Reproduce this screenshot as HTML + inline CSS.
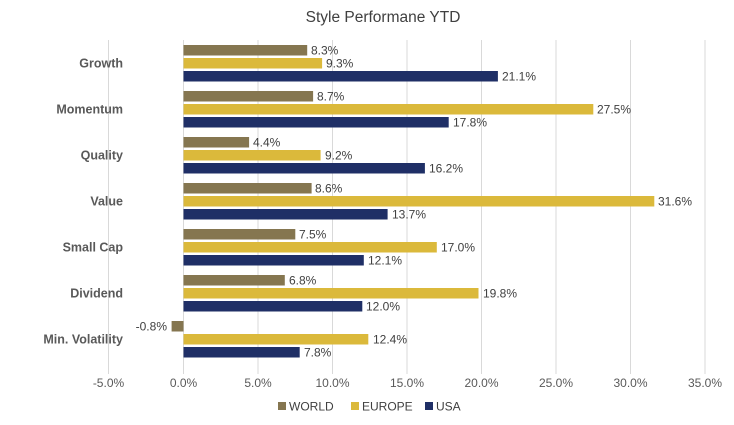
<!DOCTYPE html>
<html><head><meta charset="utf-8"><style>
body{margin:0;background:#fff}
svg{display:block;font-family:"Liberation Sans",sans-serif}
.v{font-size:12px;fill:#404040}
.c{font-size:12.5px;font-weight:bold;fill:#595959;text-anchor:end}
.t{font-size:12px;fill:#595959;text-anchor:middle}
</style></head><body>
<svg width="734" height="425" viewBox="0 0 734 425">
<text x="383" y="22" font-size="15.5" fill="#404040" text-anchor="middle">Style Performane YTD</text>
<g stroke="#d9d9d9" stroke-width="1">
<line x1="108.5" y1="40" x2="108.5" y2="374"/><line x1="183.5" y1="40" x2="183.5" y2="374"/>
<line x1="258" y1="40" x2="258" y2="374"/><line x1="332.5" y1="40" x2="332.5" y2="374"/>
<line x1="407" y1="40" x2="407" y2="374"/><line x1="481.5" y1="40" x2="481.5" y2="374"/>
<line x1="556" y1="40" x2="556" y2="374"/><line x1="630.5" y1="40" x2="630.5" y2="374"/>
<line x1="705" y1="40" x2="705" y2="374"/>
</g>
<g class="t">
<text x="108.5" y="387">-5.0%</text><text x="183.5" y="387">0.0%</text><text x="258" y="387">5.0%</text>
<text x="332.5" y="387">10.0%</text><text x="407" y="387">15.0%</text><text x="481.5" y="387">20.0%</text>
<text x="556" y="387">25.0%</text><text x="630.5" y="387">30.0%</text><text x="705" y="387">35.0%</text>
</g>
<g class="c">
<text x="123" y="67.5">Growth</text><text x="123" y="113.5">Momentum</text><text x="123" y="159.5">Quality</text>
<text x="123" y="205.5">Value</text><text x="123" y="251.5">Small Cap</text><text x="123" y="297.5">Dividend</text>
<text x="123" y="343.5">Min. Volatility</text>
</g>
<g fill="#857650">
<rect x="183.5" y="45" width="123.7" height="10.5"/><rect x="183.5" y="91" width="129.6" height="10.5"/>
<rect x="183.5" y="137" width="65.6" height="10.5"/><rect x="183.5" y="183" width="128.1" height="10.5"/>
<rect x="183.5" y="229" width="111.8" height="10.5"/><rect x="183.5" y="275" width="101.3" height="10.5"/>
<rect x="171.6" y="321" width="11.9" height="10.5"/>
</g>
<g fill="#dbb93b">
<rect x="183.5" y="58" width="138.6" height="10.5"/><rect x="183.5" y="104" width="409.8" height="10.5"/>
<rect x="183.5" y="150" width="137.1" height="10.5"/><rect x="183.5" y="196" width="470.8" height="10.5"/>
<rect x="183.5" y="242" width="253.3" height="10.5"/><rect x="183.5" y="288" width="295" height="10.5"/>
<rect x="183.5" y="334" width="184.8" height="10.5"/>
</g>
<g fill="#1f2f66">
<rect x="183.5" y="71" width="314.4" height="10.5"/><rect x="183.5" y="117" width="265.2" height="10.5"/>
<rect x="183.5" y="163" width="241.4" height="10.5"/><rect x="183.5" y="209" width="204.1" height="10.5"/>
<rect x="183.5" y="255" width="180.3" height="10.5"/><rect x="183.5" y="301" width="178.8" height="10.5"/>
<rect x="183.5" y="347" width="116.2" height="10.5"/>
</g>
<g class="v">
<text x="311" y="54.5">8.3%</text><text x="326" y="67.5">9.3%</text><text x="502" y="80.5">21.1%</text>
<text x="317" y="100.5">8.7%</text><text x="597" y="113.5">27.5%</text><text x="453" y="126.5">17.8%</text>
<text x="253" y="146.5">4.4%</text><text x="325" y="159.5">9.2%</text><text x="429" y="172.5">16.2%</text>
<text x="315" y="192.5">8.6%</text><text x="658" y="205.5">31.6%</text><text x="392" y="218.5">13.7%</text>
<text x="299" y="238.5">7.5%</text><text x="441" y="251.5">17.0%</text><text x="368" y="264.5">12.1%</text>
<text x="289" y="284.5">6.8%</text><text x="483" y="297.5">19.8%</text><text x="366" y="310.5">12.0%</text>
<text x="167" y="330.5" text-anchor="end">-0.8%</text><text x="373" y="343.5">12.4%</text><text x="304" y="356.5">7.8%</text>
</g>
<rect x="278" y="402" width="8" height="8" fill="#857650"/><text x="289" y="410.5" class="v" fill="#595959">WORLD</text>
<rect x="351" y="402" width="8" height="8" fill="#dbb93b"/><text x="362" y="410.5" class="v">EUROPE</text>
<rect x="425" y="402" width="8" height="8" fill="#1f2f66"/><text x="436" y="410.5" class="v">USA</text>
</svg>
</body></html>
